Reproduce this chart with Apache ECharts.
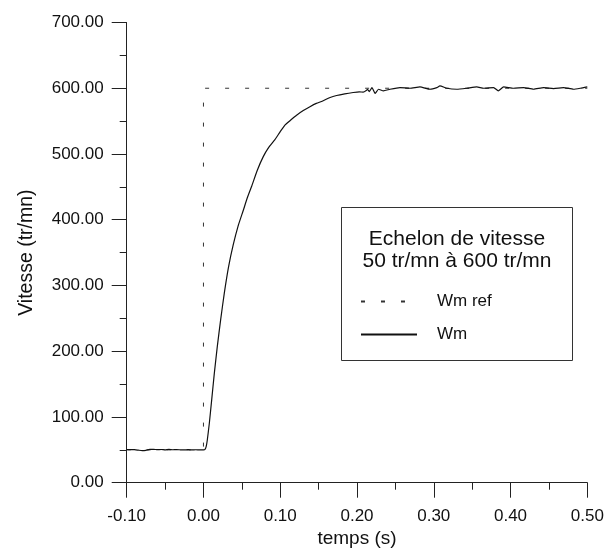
<!DOCTYPE html>
<html>
<head>
<meta charset="utf-8">
<script src="https://cdn.jsdelivr.net/npm/echarts@6/dist/echarts.min.js"></script>
<style>
  html, body { margin: 0; padding: 0; background: #fff; }
  #chart { width: 605px; height: 549px; }
</style>
</head>
<body>
<div id="chart"></div>
<script>
// ---- Data ----
var xTickValues = [-0.10, 0.00, 0.10, 0.20, 0.30, 0.40, 0.50];
var yTickValues = [0, 100, 200, 300, 400, 500, 600, 700];

var refTime  = [-0.10, 0.00, 0.00, 0.50];
var refSpeed = [50, 50, 600, 600];

var wmTime = [
  -0.100, -0.095, -0.090, -0.085, -0.080, -0.075, -0.070, -0.065, -0.060, -0.055,
  -0.050, -0.045, -0.040, -0.035, -0.030, -0.025, -0.020, -0.015, -0.010, -0.005,
   0.000,  0.002,  0.0035, 0.005,  0.0076, 0.0107, 0.0141, 0.018,  0.0224, 0.0271,
   0.0328, 0.0388, 0.045,  0.0518, 0.057,  0.0628, 0.070,  0.0779, 0.085,  0.0931,
   0.1000, 0.1061, 0.113,  0.1213, 0.130,  0.1387, 0.147,  0.156,  0.165,  0.1734,
   0.184,  0.195,  0.203,  0.208,  0.2125, 0.2135, 0.216,  0.2195, 0.2237, 0.228,
   0.2345, 0.243,  0.256,  0.269,  0.282,  0.295,  0.304,  0.308,  0.317,  0.330,
   0.343,  0.356,  0.365,  0.378,  0.384,  0.391,  0.404,  0.417,  0.430,  0.443,
   0.456,  0.469,  0.482,  0.491,  0.500
];
var wmSpeed = [
   50.5, 50.3, 50.2, 49.5, 48.8, 49.2, 50.6, 50.8, 50.2, 50.5,
   50.0, 50.6, 50.1, 50.3, 50.0, 49.8, 50.2, 49.9, 50.1, 49.8,
   50.0, 50.8, 55,   65,   90,   126,  166,  207,  248,  288,
   329,  362,  390,  414,  433,  451,  475,  496,  510,  522,
   534,  544,  551,  559,  566,  572,  577,  581,  586,  589,
   591.5, 593.5, 594.5, 594, 597, 598.5, 595, 601,  592,  598.5,
   596,  598.5, 601,  600,  602,  598.5, 601,  603.5, 600, 598.5,
   600,  602,  600,  601,  596,  602,  600,  601,  598.5, 601,
   599.5, 601, 598.5, 600, 602
];

var seriesNames = ['Wm ref', 'Wm'];
var boxTitle = 'Echelon de vitesse\n50 tr/mn à 600 tr/mn';
var xAxisName = 'temps (s)';
var yAxisName = 'Vitesse (tr/mn)';

function pairs(xs, ys) {
  var out = [];
  for (var i = 0; i < xs.length; i++) out.push([xs[i], ys[i]]);
  return out;
}
function fmt(v) {
  if (Math.abs(v) < 1e-9) v = 0;
  return v.toFixed(2);
}

var FONT = 'Liberation Sans, Arial, sans-serif';
var INK = '#111';

var chart = echarts.init(document.getElementById('chart'), null, { renderer: 'canvas' });
chart.setOption({
  animation: false,
  backgroundColor: '#fff',
  grid: {
    left: 126.7, right: 17.7, top: 22.5, bottom: 66.3,
    containLabel: false,
    outerBoundsMode: 'none'
  },
  xAxis: {
    type: 'value',
    min: xTickValues[0],
    max: xTickValues[xTickValues.length - 1],
    interval: 0.1,
    name: xAxisName,
    nameLocation: 'middle',
    nameGap: 40.5,
    nameTextStyle: { fontFamily: FONT, fontSize: 19, color: INK },
    axisLine: { onZero: false, lineStyle: { color: '#222', width: 1 } },
    axisTick: { show: true, inside: false, length: 15, lineStyle: { color: '#222', width: 1 } },
    minorTick: { show: true, splitNumber: 2, length: 7, lineStyle: { color: '#222', width: 1 } },
    axisLabel: { margin: 25, fontFamily: FONT, fontSize: 17, color: INK, formatter: fmt },
    splitLine: { show: false }
  },
  yAxis: {
    type: 'value',
    min: yTickValues[0],
    max: yTickValues[yTickValues.length - 1],
    interval: 100,
    name: yAxisName,
    nameLocation: 'middle',
    nameGap: 90,
    nameTextStyle: { fontFamily: FONT, fontSize: 19.5, color: INK },
    axisLine: { show: true, onZero: false, lineStyle: { color: '#222', width: 1 } },
    axisTick: { show: true, inside: false, length: 15, lineStyle: { color: '#222', width: 1 } },
    minorTick: { show: true, splitNumber: 2, length: 7, lineStyle: { color: '#222', width: 1 } },
    axisLabel: { margin: 23, fontFamily: FONT, fontSize: 17, color: INK, formatter: fmt },
    splitLine: { show: false }
  },
  legend: {
    orient: 'vertical',
    left: 360,
    top: 293,
    padding: 0,
    itemWidth: 56,
    itemHeight: 14,
    itemGap: 16,
    itemStyle: { color: 'rgba(0,0,0,0)', borderWidth: 0, opacity: 0 },
    textStyle: { fontFamily: FONT, fontSize: 17, color: INK, padding: [0, 0, 0, 15] },
    data: seriesNames
  },
  graphic: [
    {
      type: 'rect',
      shape: { x: 341.5, y: 207.5, width: 231, height: 153 },
      style: { fill: 'none', stroke: '#333', lineWidth: 1 },
      silent: true
    },
    {
      type: 'text',
      x: 457, y: 227.5,
      style: {
        text: boxTitle,
        fontFamily: FONT, fontSize: 21, lineHeight: 22.5,
        fill: INK, textAlign: 'center', textVerticalAlign: 'top'
      },
      silent: true
    }
  ],
  series: [
    {
      name: seriesNames[0],
      type: 'line',
      data: pairs(refTime, refSpeed),
      showSymbol: false,
      symbol: 'none',
      lineStyle: { color: '#333', width: 1, type: [4, 16] },
      itemStyle: { color: '#333' },
      z: 1
    },
    {
      name: seriesNames[1],
      type: 'line',
      data: pairs(wmTime, wmSpeed),
      showSymbol: false,
      symbol: 'none',
      smooth: 0.15,
      lineStyle: { color: '#111', width: 1.2 },
      itemStyle: { color: '#111' },
      z: 2
    }
  ]
});
</script>
</body>
</html>
